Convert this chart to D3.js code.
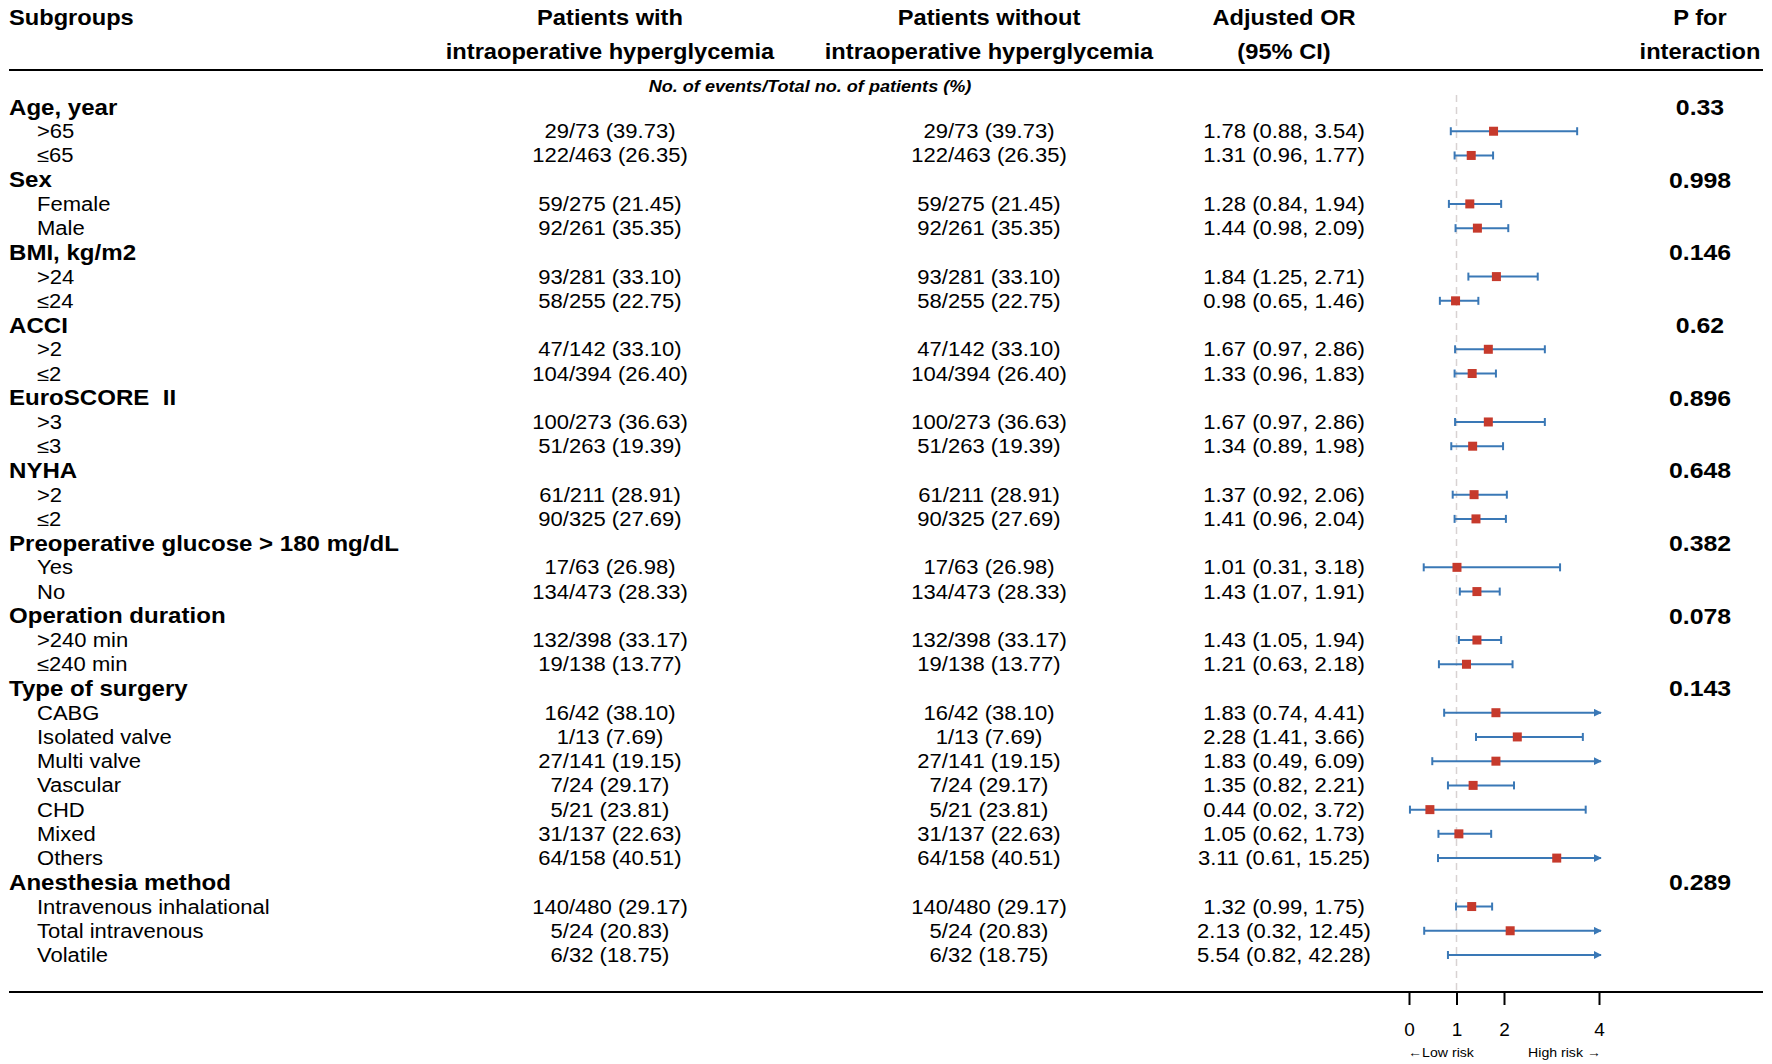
<!DOCTYPE html>
<html>
<head>
<meta charset="utf-8">
<script src="https://cdn.jsdelivr.net/npm/d3@7"></script>
<style>
  html, body { margin: 0; padding: 0; background: #fff; }
  svg { display: block; }
  text { font-family: "Liberation Sans", Arial, Helvetica, sans-serif; fill: #000; }
</style>
</head>
<body>
<svg id="chart" width="1772" height="1064"></svg>
<script>
// ---------------- DATA ----------------
const rowLabels = [
  "Age, year", ">65", "≤65",
  "Sex", "Female", "Male",
  "BMI, kg/m2", ">24", "≤24",
  "ACCI", ">2", "≤2",
  "EuroSCORE\u00a0\u00a0II", ">3", "≤3",
  "NYHA", ">2", "≤2",
  "Preoperative glucose > 180 mg/dL", "Yes", "No",
  "Operation duration", ">240 min", "≤240 min",
  "Type of surgery", "CABG", "Isolated valve", "Multi valve", "Vascular", "CHD", "Mixed", "Others",
  "Anesthesia method", "Intravenous inhalational", "Total intravenous", "Volatile"
];
const rowIsGroup = [
  1,0,0, 1,0,0, 1,0,0, 1,0,0, 1,0,0, 1,0,0, 1,0,0, 1,0,0, 1,0,0,0,0,0,0,0, 1,0,0,0
];
const eventsWith = [
  "", "29/73 (39.73)", "122/463 (26.35)",
  "", "59/275 (21.45)", "92/261 (35.35)",
  "", "93/281 (33.10)", "58/255 (22.75)",
  "", "47/142 (33.10)", "104/394 (26.40)",
  "", "100/273 (36.63)", "51/263 (19.39)",
  "", "61/211 (28.91)", "90/325 (27.69)",
  "", "17/63 (26.98)", "134/473 (28.33)",
  "", "132/398 (33.17)", "19/138 (13.77)",
  "", "16/42 (38.10)", "1/13 (7.69)", "27/141 (19.15)", "7/24 (29.17)", "5/21 (23.81)", "31/137 (22.63)", "64/158 (40.51)",
  "", "140/480 (29.17)", "5/24 (20.83)", "6/32 (18.75)"
];
const eventsWithout = [
  "", "29/73 (39.73)", "122/463 (26.35)",
  "", "59/275 (21.45)", "92/261 (35.35)",
  "", "93/281 (33.10)", "58/255 (22.75)",
  "", "47/142 (33.10)", "104/394 (26.40)",
  "", "100/273 (36.63)", "51/263 (19.39)",
  "", "61/211 (28.91)", "90/325 (27.69)",
  "", "17/63 (26.98)", "134/473 (28.33)",
  "", "132/398 (33.17)", "19/138 (13.77)",
  "", "16/42 (38.10)", "1/13 (7.69)", "27/141 (19.15)", "7/24 (29.17)", "5/21 (23.81)", "31/137 (22.63)", "64/158 (40.51)",
  "", "140/480 (29.17)", "5/24 (20.83)", "6/32 (18.75)"
];
const orEst = [
  null, 1.78, 1.31,
  null, 1.28, 1.44,
  null, 1.84, 0.98,
  null, 1.67, 1.33,
  null, 1.67, 1.34,
  null, 1.37, 1.41,
  null, 1.01, 1.43,
  null, 1.43, 1.21,
  null, 1.83, 2.28, 1.83, 1.35, 0.44, 1.05, 3.11,
  null, 1.32, 2.13, 5.54
];
const orLow = [
  null, 0.88, 0.96,
  null, 0.84, 0.98,
  null, 1.25, 0.65,
  null, 0.97, 0.96,
  null, 0.97, 0.89,
  null, 0.92, 0.96,
  null, 0.31, 1.07,
  null, 1.05, 0.63,
  null, 0.74, 1.41, 0.49, 0.82, 0.02, 0.62, 0.61,
  null, 0.99, 0.32, 0.82
];
const orHigh = [
  null, 3.54, 1.77,
  null, 1.94, 2.09,
  null, 2.71, 1.46,
  null, 2.86, 1.83,
  null, 2.86, 1.98,
  null, 2.06, 2.04,
  null, 3.18, 1.91,
  null, 1.94, 2.18,
  null, 4.41, 3.66, 6.09, 2.21, 3.72, 1.73, 15.25,
  null, 1.75, 12.45, 42.28
];
const pInteraction = [
  "0.33", "", "",
  "0.998", "", "",
  "0.146", "", "",
  "0.62", "", "",
  "0.896", "", "",
  "0.648", "", "",
  "0.382", "", "",
  "0.078", "", "",
  "0.143", "", "", "", "", "", "", "",
  "0.289", "", "", ""
];
const headerLines = [
  ["Subgroups", ""],
  ["Patients with", "intraoperative hyperglycemia"],
  ["Patients without", "intraoperative hyperglycemia"],
  ["Adjusted OR", "(95% CI)"],
  ["P for", "interaction"]
];
const subHeader = "No. of events/Total no. of patients (%)";
const axisTicks = [0, 1, 2, 4];
const riskLabels = ["\u2190Low risk", "High risk \u2192"];

// ---------------- LAYOUT ----------------
const SX = 1.13; // horizontal stretch of the original typesetting
const svg = d3.select("#chart");
const n = rowLabels.length;

const y = d3.scalePoint().domain(d3.range(n)).range([107, 955]);
const x = d3.scaleLinear().domain([0, 4]).range([1409, 1599]);

const colX = { label: 9, sub: 37, with: 610, without: 989, or: 1284, p: 1700 };
const BLUE = "#3a78b6";
const RED = "#c63a2c";

function txt(px, py, s, anchor, size, weight, style, sx) {
  return svg.append("text")
    .attr("transform", `translate(${px},${py}) scale(${sx || SX},1)`)
    .attr("text-anchor", anchor)
    .style("font-size", size + "px")
    .style("font-weight", weight || "normal")
    .style("font-style", style || "normal")
    .text(s);
}

// header
const headerCols = [
  { x: colX.label, anchor: "start" },
  { x: colX.with, anchor: "middle" },
  { x: colX.without, anchor: "middle" },
  { x: colX.or, anchor: "middle" },
  { x: colX.p, anchor: "middle" }
];
headerLines.forEach((lines, i) => {
  const c = headerCols[i];
  if (lines[0]) txt(c.x, 25, lines[0], c.anchor, 21.5, "bold", null, 1.1);
  if (lines[1]) txt(c.x, 59, lines[1], c.anchor, 21.5, "bold", null, 1.1);
});
svg.append("line").attr("x1", 9).attr("x2", 1763).attr("y1", 70).attr("y2", 70)
  .attr("stroke", "#000").attr("stroke-width", 2);
txt(810, 92, subHeader, "middle", 16, "bold", "italic");

// reference line at OR = 1
svg.append("line")
  .attr("x1", x(1)).attr("x2", x(1)).attr("y1", 95).attr("y2", 990)
  .attr("stroke", "#d8d2d2").attr("stroke-width", 1.5).attr("stroke-dasharray", "7,5");

// rows
d3.range(n).forEach(i => {
  const yc = y(i);
  if (rowIsGroup[i]) {
    txt(colX.label, yc + 7.5, rowLabels[i], "start", 21.5, "bold", null, 1.12);
  } else {
    txt(colX.sub, yc + 7, rowLabels[i], "start", 19.5);
    txt(colX.with, yc + 7, eventsWith[i], "middle", 19.5);
    txt(colX.without, yc + 7, eventsWithout[i], "middle", 19.5);
    txt(colX.or, yc + 7,
      `${orEst[i].toFixed(2)} (${orLow[i].toFixed(2)}, ${orHigh[i].toFixed(2)})`, "middle", 19.5);
  }
  if (pInteraction[i]) txt(colX.p, yc + 8, pInteraction[i], "middle", 22, "bold");
});

// arrow marker
svg.append("defs").append("marker")
  .attr("id", "arr").attr("viewBox", "0 0 10 10")
  .attr("refX", 9).attr("refY", 5)
  .attr("markerWidth", 4).attr("markerHeight", 4)
  .attr("markerUnits", "strokeWidth")
  .attr("orient", "auto")
  .append("path").attr("d", "M0,0 L10,5 L0,10 z").attr("fill", BLUE);

// CI lines
const ciRows = d3.range(n).filter(i => orEst[i] !== null);
const g = svg.append("g");
ciRows.forEach(i => {
  const yc = y(i);
  const lo = Math.max(orLow[i], 0), hi = orHigh[i];
  const clipped = hi > 4;
  const x1 = x(lo), x2 = clipped ? x(4) + 2 : x(hi);
  g.append("line").attr("x1", x1).attr("x2", x2).attr("y1", yc).attr("y2", yc)
    .attr("stroke", BLUE).attr("stroke-width", 2)
    .attr("marker-end", clipped ? "url(#arr)" : null);
  g.append("line").attr("x1", x1).attr("x2", x1).attr("y1", yc - 4).attr("y2", yc + 4)
    .attr("stroke", BLUE).attr("stroke-width", 2);
  if (!clipped) {
    g.append("line").attr("x1", x2).attr("x2", x2).attr("y1", yc - 4).attr("y2", yc + 4)
      .attr("stroke", BLUE).attr("stroke-width", 2);
  }
  if (orEst[i] <= 4) {
    g.append("rect")
      .attr("x", x(orEst[i]) - 4.5).attr("y", yc - 4.5)
      .attr("width", 9).attr("height", 9)
      .attr("fill", RED);
  }
});

// bottom rule and axis
svg.append("line").attr("x1", 9).attr("x2", 1763).attr("y1", 992).attr("y2", 992)
  .attr("stroke", "#000").attr("stroke-width", 2);
const axis = d3.axisBottom(x).tickValues(axisTicks).tickSize(13).tickPadding(18)
  .tickFormat(d3.format("d"));
const ag = svg.append("g").attr("transform", "translate(0,992)").call(axis);
ag.select(".domain").remove();
ag.selectAll(".tick line").attr("stroke", "#000").attr("stroke-width", 2);
ag.selectAll(".tick text").style("font-size", "19px")
  .style("font-family", '"Liberation Sans", Arial, sans-serif').attr("fill", "#000");

txt(x(0) - 1, 1057, riskLabels[0], "start", 12.5);
txt(x(4) + 2, 1057, riskLabels[1], "end", 12.5);
</script>
</body>
</html>
